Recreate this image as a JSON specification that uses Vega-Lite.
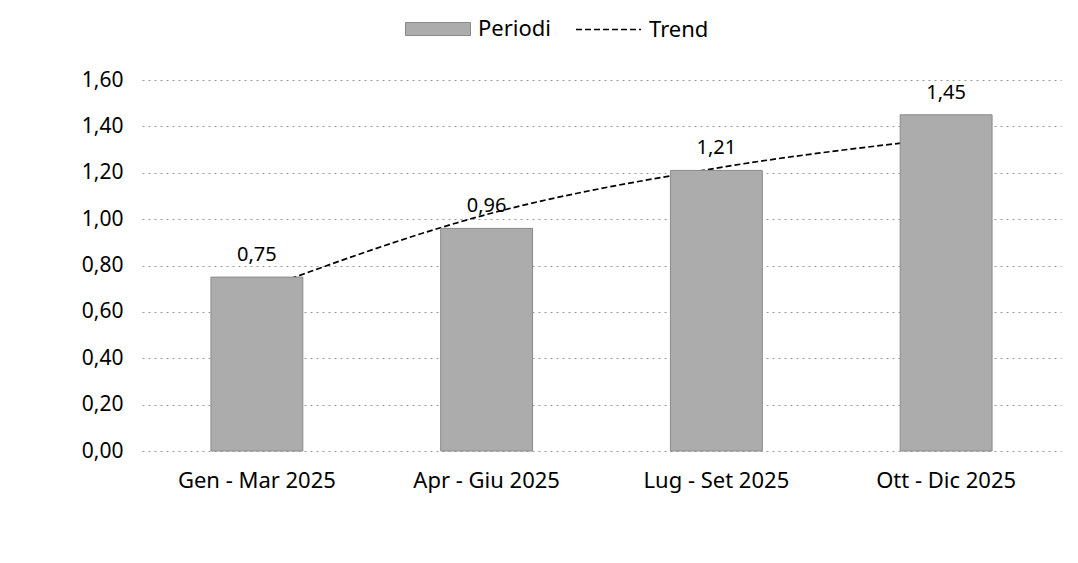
{
  "$schema": "https://vega.github.io/schema/vega-lite/v6.json",
  "width": 919,
  "height": 371,
  "autosize": {"type": "none"},
  "padding": {"left": 142, "top": 80, "right": 17, "bottom": 112},
  "background": "white",
  "config": {
    "view": {"stroke": null},
    "font": "Noto Sans",
    "locale": {"number": {"decimal": ",", "thousands": ".", "grouping": [3], "currency": ["€", ""]}}
  },
  "data": {
    "values": [
      {"periodo": "Gen - Mar 2025", "valore": 0.75, "trend": 0.69},
      {"periodo": "Apr - Giu 2025", "valore": 0.96, "trend": 1.02},
      {"periodo": "Lug - Set 2025", "valore": 1.21, "trend": 1.22},
      {"periodo": "Ott - Dic 2025", "valore": 1.45, "trend": 1.35}
    ]
  },
  "encoding": {
    "x": {
      "field": "periodo",
      "type": "nominal",
      "sort": null,
      "scale": {"paddingInner": 0.6, "paddingOuter": 0.3},
      "axis": {
        "title": null,
        "labelAngle": 0,
        "domain": false,
        "ticks": false,
        "labelPadding": 19,
        "labelFontSize": 22,
        "labelFont": "Noto Sans",
        "labelColor": "#000000"
      }
    }
  },
  "layer": [
    {
      "mark": {"type": "line", "interpolate": "monotone", "strokeWidth": 1.7, "color": "#000000"},
      "encoding": {
        "y": {"field": "trend", "type": "quantitative"},
        "strokeDash": {
          "datum": "Trend",
          "scale": {"domain": ["Trend"], "range": [[6, 3]]},
          "legend": {
            "orient": "none",
            "legendX": 433,
            "legendY": -84,
            "title": null,
            "padding": 0,
            "labelFontSize": 22,
            "labelFont": "Noto Sans",
            "labelColor": "#000000",
            "labelOffset": 7,
            "symbolType": "stroke",
            "symbolSize": 4225,
            "symbolStrokeColor": "#000000",
            "symbolStrokeWidth": 1.7
          }
        }
      }
    },
    {
      "mark": {"type": "bar", "stroke": "#8a8a8a", "strokeWidth": 1},
      "encoding": {
        "y": {
          "field": "valore",
          "type": "quantitative",
          "scale": {"domain": [0, 1.6], "nice": false, "zero": true},
          "axis": {
            "title": null,
            "values": [0, 0.2, 0.4, 0.6, 0.8, 1.0, 1.2, 1.4, 1.6],
            "format": ".2f",
            "domain": false,
            "ticks": false,
            "labelPadding": 19,
            "labelFontSize": 21,
            "labelFont": "Noto Sans",
            "labelColor": "#000000",
            "grid": true,
            "gridDash": [2, 4],
            "gridColor": "#999999",
            "gridWidth": 1
          }
        },
        "fill": {
          "datum": "Periodi",
          "scale": {"domain": ["Periodi"], "range": ["#acacac"]},
          "legend": {
            "orient": "none",
            "legendX": 263,
            "legendY": -84,
            "title": null,
            "padding": 0,
            "labelFontSize": 22,
            "labelFont": "Noto Sans",
            "labelColor": "#000000",
            "labelOffset": 7,
            "symbolType": "M-1,-0.2H1V0.2H-1Z",
            "symbolSize": 4225,
            "symbolStrokeColor": "#8a8a8a",
            "symbolStrokeWidth": 1,
            "symbolOpacity": 1
          }
        }
      }
    },
    {
      "mark": {"type": "text", "dy": -16, "baseline": "alphabetic", "fontSize": 20, "font": "Noto Sans", "color": "#000000"},
      "encoding": {
        "y": {"field": "valore", "type": "quantitative"},
        "text": {"field": "valore", "type": "quantitative", "format": ".2f"}
      }
    }
  ]
}
